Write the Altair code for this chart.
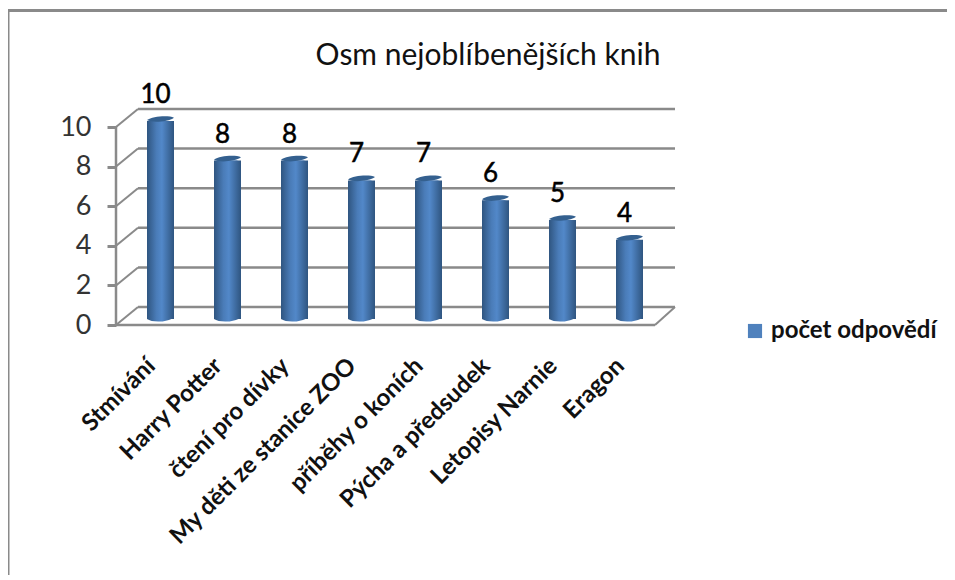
import altair as alt
import pandas as pd

categories = ["Stmívání", "Harry Potter", "čtení pro dívky", "My děti ze stanice ZOO",
              "příběhy o koních", "Pýcha a předsudek", "Letopisy Narnie", "Eragon"]
values = [10, 8, 8, 7, 7, 6, 5, 4]
ticks = [0, 2, 4, 6, 8, 10]
series = "počet odpovědí"
title = "Osm nejoblíbenějších knih"

FONT = "Lato"
GREY = "#8a8a8a"
df = pd.DataFrame({"kniha": categories, "pocet": values, "serie": series})
tf = pd.DataFrame({"v": ticks})

xs = alt.X("kniha:N", sort=categories, title=None, scale=alt.Scale(paddingInner=0, paddingOuter=0),
           axis=alt.Axis(labelAngle=-45, labelFontSize=24, labelFont=FONT, labelColor="#111111", labelFontWeight="bold",
                         labelAlign="right", labelBaseline="middle", labelPadding=37, labelOffset=-9,
                         ticks=False, domain=False, labelLimit=400, labelOverlap=False))
yaxis = alt.Axis(values=ticks, offset=11, tickSize=9, tickWidth=3, tickColor=GREY, domain=False,
                 grid=False, labelFontSize=27, labelFont=FONT, labelColor="#333333", labelPadding=16)
yscale = alt.Scale(domain=[0, 10])
ys = alt.Y("pocet:Q", title=None, scale=yscale, axis=yaxis)
yv = alt.Y("v:Q", title=None, scale=yscale, axis=yaxis)

grid = alt.Chart(tf).mark_rule(color=GREY, strokeWidth=2.5, yOffset=-18).encode(
    y=yv, x=alt.value(11), x2=alt.value(548))
diag = alt.Chart(tf).mark_rule(color=GREY, strokeWidth=2, y2Offset=-18).encode(
    y=yv, y2="v:Q", x=alt.value(-11), x2=alt.value(11))
wall = alt.Chart(pd.DataFrame({"v": [0], "w": [10]})).mark_rule(color=GREY, strokeWidth=2.5).encode(
    y=yv, y2="w:Q", x=alt.value(-11))
floor = alt.Chart(pd.DataFrame({"v": [0]})).mark_rule(color=GREY, strokeWidth=2.5).encode(
    y=yv, x=alt.value(-11), x2=alt.value(528))
side = alt.Chart(pd.DataFrame({"v": [0]})).mark_rule(color=GREY, strokeWidth=2, y2Offset=-18).encode(
    y=yv, y2="v:Q", x=alt.value(528), x2=alt.value(548))
frame_top = alt.Chart(pd.DataFrame({"v": [0]})).mark_rule(color=GREY, strokeWidth=3).encode(
    y=alt.value(-116.5), x=alt.value(-119), x2=alt.value(820))
frame_left = alt.Chart(pd.DataFrame({"v": [0]})).mark_rule(color=GREY, strokeWidth=3).encode(
    x=alt.value(-119), y=alt.value(-118), y2=alt.value(448))

base = alt.Chart(df)
legend_bar = base.mark_bar(size=20, yOffset=-6, y2Offset=-6).encode(
    x=xs, y=ys,
    color=alt.Color("serie:N", title=None, scale=alt.Scale(range=["#4f81bd"]),
                    legend=alt.Legend(orient="none", legendX=616, legendY=192, symbolType="square",
                                      symbolSize=200, symbolStrokeWidth=0, labelFont=FONT, labelFontSize=24,
                                      labelFontWeight="bold", labelColor="#111111", padding=0, labelLimit=300)))
grad = alt.Gradient(gradient="linear", x1=0, y1=0, x2=1, y2=0, stops=[
    alt.GradientStop(color="#2f5580", offset=0), alt.GradientStop(color="#4a7cb8", offset=0.35),
    alt.GradientStop(color="#5288c9", offset=0.55), alt.GradientStop(color="#2f5580", offset=1)])
bars = base.mark_bar(size=27, color=grad, yOffset=-6, y2Offset=-6).encode(x=xs, y=ys)
bottom = base.mark_point(shape="M-1,0 C-0.6,0.28 0.5,0.25 1,-0.12 L1,-0.3 L-1,-0.3 Z", size=729, filled=True,
                         fill=grad, opacity=1, yOffset=-6, strokeWidth=0).encode(x=xs, y=alt.datum(0, scale=yscale, axis=yaxis, title=None))
top = base.mark_point(shape="M-1,0.08 C-0.6,-0.22 0.6,-0.3 1,-0.1 C0.6,0.2 -0.6,0.32 -1,0.08 Z", size=729, filled=True,
                      fill="#34608f", opacity=1, yOffset=-8, strokeWidth=0).encode(x=xs, y=ys)
lab = base.mark_text(font=FONT, fontSize=26, color="#000000", stroke="#000000", strokeWidth=0.5,
                     dx=-5, dy=-19, baseline="bottom").encode(x=xs, y=ys, text="pocet:Q")

chart = alt.layer(frame_top, frame_left, grid, diag, wall, floor, side, legend_bar, bars, bottom, top, lab).properties(
    width=536, height=198,
    autosize=alt.AutoSizeParams(type="none"),
    padding={"left": 119, "top": 119, "right": 284, "bottom": 250},
    title=alt.TitleParams(title, font=FONT, fontSize=30, fontWeight="normal", color="#111111",
                          anchor="middle", orient="none", dy=-62, dx=361, frame="group", baseline="alphabetic"),
    background="white",
).configure_view(stroke=None)

chart.save("out.html", embed_options={"renderer": "svg", "actions": False})
